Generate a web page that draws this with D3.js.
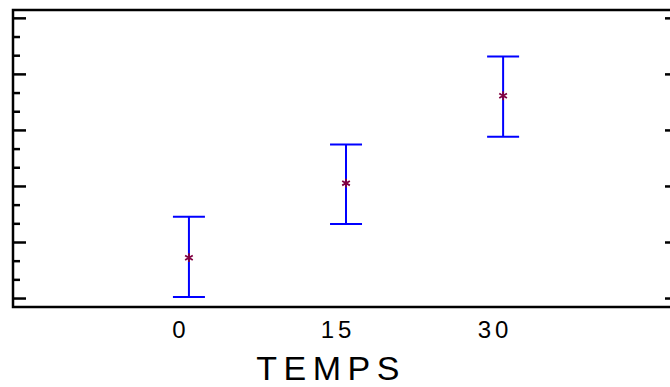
<!DOCTYPE html>
<html>
<head>
<meta charset="utf-8">
<script src="https://cdn.jsdelivr.net/npm/d3@7"></script>
<style>
  body { margin: 0; background: #fff; }
  svg { display: block; }
</style>
</head>
<body>
<div id="chart"></div>
<script>
// Data
var times = [0, 15, 30];
var timeLabels = ["0", "15", "30"];
var means = [0.72, 2.05, 3.61];
var lower = [0.02, 1.32, 2.88];
var upper = [1.45, 2.74, 4.31];
var yMajorTicks = [0, 1, 2, 3, 4, 5];

var width = 670,
    height = 387;

var plot = { left: 13, right: 678, top: 10, bottom: 307 };

var svg = d3.select("#chart")
    .append("svg")
    .attr("width", width)
    .attr("height", height);

// Scales
var x = d3.scaleLinear()
    .domain([-16.8, 46.7])
    .range([plot.left, plot.right]);

var y = d3.scaleLinear()
    .domain([-0.16, 5.14])
    .range([plot.bottom, plot.top]);

// Minor ticks, 2 between each pair of majors
var minorTicks = [];
for (var i = 0; i < yMajorTicks.length - 1; i++) {
    var step = (yMajorTicks[i + 1] - yMajorTicks[i]) / 3;
    minorTicks.push(yMajorTicks[i] + step, yMajorTicks[i] + 2 * step);
}

// Left axis ticks
svg.append("g")
    .attr("transform", "translate(" + plot.left + ",0)")
    .call(d3.axisRight(y).tickValues(yMajorTicks).tickSize(13).tickFormat(""))
    .call(g => g.select(".domain").remove())
    .call(g => g.selectAll("line").attr("stroke", "#000").attr("stroke-width", 2.5));

svg.append("g")
    .attr("transform", "translate(" + plot.left + ",0)")
    .call(d3.axisRight(y).tickValues(minorTicks).tickSize(7).tickFormat(""))
    .call(g => g.select(".domain").remove())
    .call(g => g.selectAll("line").attr("stroke", "#000").attr("stroke-width", 2.5));

// Right axis ticks (majors only)
svg.append("g")
    .attr("transform", "translate(" + plot.right + ",0)")
    .call(d3.axisLeft(y).tickValues(yMajorTicks).tickSize(13).tickFormat(""))
    .call(g => g.select(".domain").remove())
    .call(g => g.selectAll("line").attr("stroke", "#000").attr("stroke-width", 2.5));

// Frame
svg.append("rect")
    .attr("x", plot.left)
    .attr("y", plot.top)
    .attr("width", plot.right - plot.left)
    .attr("height", plot.bottom - plot.top)
    .attr("fill", "none")
    .attr("stroke", "#000")
    .attr("stroke-width", 2.5);

// Error bars
var capHalf = 16;
var bars = svg.append("g")
    .attr("stroke", "#0000ff")
    .attr("stroke-width", 2)
    .selectAll("g")
    .data(times)
    .enter()
    .append("g");

bars.append("line")
    .attr("x1", d => x(d)).attr("x2", d => x(d))
    .attr("y1", (d, i) => y(upper[i])).attr("y2", (d, i) => y(lower[i]));

bars.append("line")
    .attr("x1", d => x(d) - capHalf).attr("x2", d => x(d) + capHalf)
    .attr("y1", (d, i) => y(upper[i])).attr("y2", (d, i) => y(upper[i]));

bars.append("line")
    .attr("x1", d => x(d) - capHalf).attr("x2", d => x(d) + capHalf)
    .attr("y1", (d, i) => y(lower[i])).attr("y2", (d, i) => y(lower[i]));

// Mean markers
svg.append("g")
    .selectAll("path")
    .data(times)
    .enter()
    .append("path")
    .attr("d", d3.symbol().type(d3.symbolAsterisk).size(55))
    .attr("transform", (d, i) => "translate(" + x(d) + "," + y(means[i]) + ")")
    .attr("fill", "none")
    .attr("stroke", "#800040")
    .attr("stroke-width", 1.8);

// X tick labels
svg.append("g")
    .selectAll("text")
    .data(times)
    .enter()
    .append("text")
    .attr("x", d => x(d) - 8)
    .attr("y", 338)
    .attr("text-anchor", "middle")
    .style("font-family", "Liberation Sans, Arial, sans-serif")
    .style("font-size", "24px")
    .style("letter-spacing", "4px")
    .text((d, i) => timeLabels[i]);

// X axis title
svg.append("text")
    .attr("x", 331)
    .attr("y", 380)
    .attr("text-anchor", "middle")
    .style("font-family", "Liberation Sans, Arial, sans-serif")
    .style("font-size", "34px")
    .style("letter-spacing", "6.5px")
    .text("TEMPS");
</script>
</body>
</html>
